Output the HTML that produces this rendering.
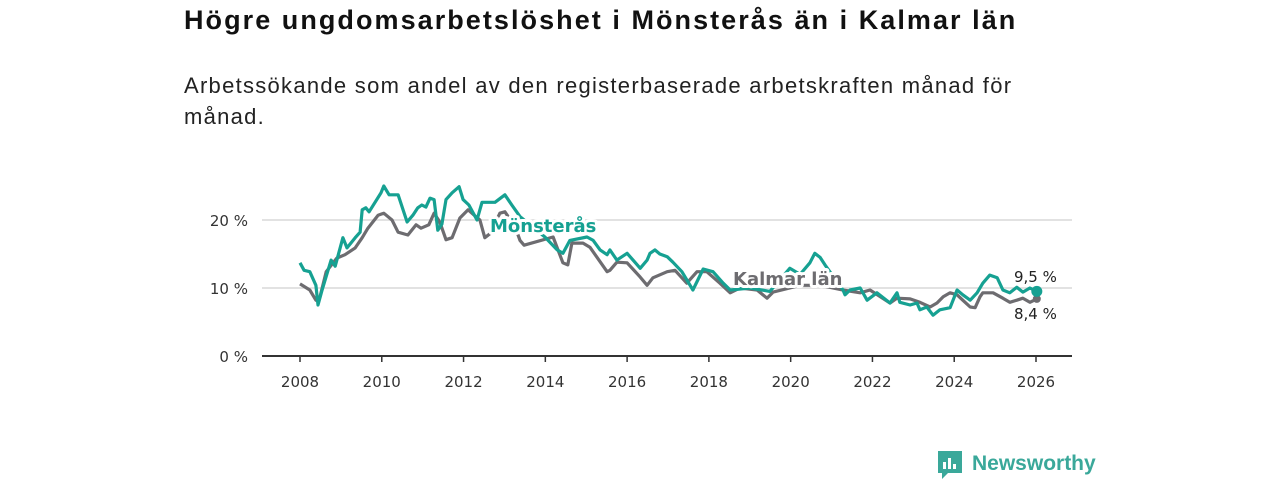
<!DOCTYPE html>
<html><head><meta charset="utf-8"><style>
body{margin:0;background:#fff;width:1280px;height:480px;overflow:hidden;font-family:"Liberation Sans","DejaVu Sans",sans-serif;}
#title{position:absolute;left:184px;top:5px;font-size:27px;letter-spacing:2.05px;font-weight:bold;color:#111;margin:0;white-space:nowrap;}
#sub{position:absolute;left:184px;top:70px;font-size:22px;letter-spacing:1.28px;line-height:31px;color:#222;width:850px;}
svg{position:absolute;left:0;top:0;}
</style></head><body>
<h1 id="title">Högre ungdomsarbetslöshet i Mönsterås än i Kalmar län</h1>
<div id="sub">Arbetssökande som andel av den registerbaserade arbetskraften månad för månad.</div>
<svg id="chart" width="1280" height="480"></svg>
<script>
const yTicks=[0,10,20];
const yTickLabels=["0 %","10 %","20 %"];
const xTicks=[2008,2010,2012,2014,2016,2018,2020,2022,2024,2026];
const monsYears=[2008.00,2008.10,2008.24,2008.39,2008.44,2008.54,2008.76,2008.86,2009.05,2009.15,2009.35,2009.47,2009.52,2009.61,2009.69,2009.98,2010.05,2010.18,2010.40,2010.62,2010.76,2010.88,2010.98,2011.08,2011.18,2011.28,2011.37,2011.47,2011.57,2011.72,2011.89,2011.99,2012.13,2012.33,2012.45,2012.77,2013.01,2013.18,2013.38,2013.99,2014.29,2014.43,2014.60,2015.02,2015.17,2015.34,2015.51,2015.58,2015.75,2016.00,2016.32,2016.49,2016.56,2016.68,2016.80,2016.98,2017.12,2017.34,2017.61,2017.86,2018.10,2018.35,2018.52,2019.01,2019.49,2019.98,2020.23,2020.47,2020.59,2020.72,2020.84,2021.28,2021.33,2021.45,2021.70,2021.87,2022.11,2022.43,2022.60,2022.67,2022.92,2023.09,2023.16,2023.33,2023.48,2023.65,2023.90,2024.07,2024.21,2024.39,2024.56,2024.70,2024.87,2025.05,2025.19,2025.36,2025.53,2025.68,2025.85,2026.02];
const monsValues=[13.7,12.6,12.4,10.4,7.5,9.7,14.1,13.2,17.4,15.9,17.4,18.2,21.5,21.8,21.2,24,25,23.7,23.7,19.7,20.7,21.8,22.2,21.9,23.2,23,18.5,19.4,23,24,24.9,23,22.2,20,22.6,22.6,23.7,22.2,20.5,17.5,15.6,15.1,17,17.5,17,15.6,14.9,15.6,14.1,15.1,12.9,14.1,15.1,15.6,15,14.6,13.8,12.4,9.7,12.8,12.4,10.7,9.7,10,9.5,12.9,12,13.7,15.1,14.5,13.4,9.7,9,9.7,10,8.2,9.3,7.8,9.3,7.9,7.5,7.8,6.8,7.2,6.0,6.8,7.1,9.7,9,8.2,9.3,10.7,11.9,11.5,9.7,9.3,10.1,9.4,10,9.5];
const kalYears=[2008.00,2008.24,2008.39,2008.49,2008.64,2008.90,2009.10,2009.35,2009.52,2009.66,2009.91,2010.05,2010.25,2010.40,2010.64,2010.84,2010.96,2011.15,2011.28,2011.42,2011.57,2011.72,2011.91,2012.11,2012.26,2012.40,2012.52,2012.65,2012.89,2013.01,2013.26,2013.38,2013.48,2014.19,2014.43,2014.55,2014.65,2014.92,2015.09,2015.51,2015.58,2015.75,2016.00,2016.32,2016.49,2016.63,2016.98,2017.17,2017.46,2017.71,2017.95,2018.27,2018.52,2018.76,2019.18,2019.42,2019.57,2019.98,2020.23,2020.72,2021.28,2021.70,2021.94,2022.43,2022.60,2022.92,2023.16,2023.41,2023.58,2023.73,2023.90,2024.07,2024.21,2024.39,2024.51,2024.63,2024.70,2024.95,2025.19,2025.36,2025.53,2025.68,2025.85,2026.02];
const kalValues=[10.6,9.7,8.2,8.7,12.4,14.4,14.9,15.9,17.4,18.8,20.7,21,20,18.2,17.8,19.3,18.8,19.3,21,19.7,17.1,17.4,20.3,21.5,20.7,20,17.4,18,21,21.2,19,17,16.3,17.5,13.7,13.4,16.6,16.6,16,12.4,12.6,13.8,13.7,11.6,10.4,11.5,12.4,12.6,10.7,12.4,12.4,10.7,9.3,10,9.7,8.5,9.4,10,10.4,10.4,9.7,9.3,9.7,7.8,8.5,8.4,7.9,7.2,7.8,8.7,9.3,9,8.2,7.2,7.1,8.7,9.3,9.3,8.5,7.9,8.2,8.5,7.9,8.4];
const monsLast="9,5 %", kalLast="8,4 %";

const NS="http://www.w3.org/2000/svg";
const svg=document.getElementById('chart');
const X=y=>300+(y-2008)*(736/18);
const Y=v=>356-v*6.8;
const TF='"DejaVu Sans","Liberation Sans",sans-serif';
function mk(tag,attrs,parent){const e=document.createElementNS(NS,tag);for(const k in attrs)e.setAttribute(k,attrs[k]);(parent||svg).appendChild(e);return e;}
yTicks.forEach((t,i)=>{
  if(t>0){const g=mk('line',{x1:262,x2:1072,y1:Y(t),y2:Y(t),stroke:'#d9d9d9','stroke-width':1.5});
  
  }
  const l=mk('text',{x:248,y:Y(t)+6,'text-anchor':'end','font-size':15,'font-family':TF,fill:'#333'});
  l.textContent=yTickLabels[i];
  
  
});
const ax=mk('line',{x1:262,x2:1072,y1:356,y2:356,stroke:'#333','stroke-width':2});


xTicks.forEach(t=>{
  const tk=mk('line',{x1:X(t),x2:X(t),y1:356,y2:362,stroke:'#333','stroke-width':1.5});
  
  
  const l=mk('text',{x:X(t),y:387,'text-anchor':'middle','font-size':15,'font-family':TF,fill:'#333'});
  l.textContent=t;
  
  
});
function line(xs,vs,col,name){
  const d=xs.map((x,i)=>(i?'L':'M')+X(x).toFixed(1)+','+Y(vs[i]).toFixed(1)).join('');
  const p=mk('path',{d:d,fill:'none',stroke:col,'stroke-width':3.2,'stroke-linejoin':'round'});
  
  
  const c=mk('circle',{cx:X(xs[xs.length-1]),cy:Y(vs[vs.length-1]),r:name.startsWith('mon')?5.5:4,fill:col});
  
  
}
line(kalYears,kalValues,'#6d6c70','kalmar-line');
line(monsYears,monsValues,'#16a192','monsteras-line');
function lab(txt,x,y,col,size,bold,name){
  const t=mk('text',{x:x,y:y,'font-size':size,'font-family':TF,fill:col,'font-weight':bold?'bold':'normal',stroke:'#fff','stroke-width':bold?6:4,'paint-order':'stroke','stroke-linejoin':'round'});
  t.textContent=txt;
  
  
}
lab('Mönsterås',490,232,'#16a192',18,true,'monsteras-label');
lab('Kalmar län',733,285,'#6d6c70',18,true,'kalmar-label');
lab(monsLast,1014,282,'#222',15,false,'monsteras-last-value');
lab(kalLast,1014,319,'#222',15,false,'kalmar-last-value');
const lg=mk('g',{});


mk('path',{d:'M938,451h24v22h-14l-6,6v-6h-4z',fill:'#3aa89a'},lg);
mk('rect',{x:943,y:462,width:3,height:7,fill:'#fff'},lg);
mk('rect',{x:948,y:458,width:3,height:11,fill:'#fff'},lg);
mk('rect',{x:953,y:464,width:3,height:5,fill:'#fff'},lg);
const lt=mk('text',{x:972,y:470,'font-size':21,'font-weight':'bold',fill:'#3aa89a'},lg);
lt.textContent='Newsworthy';
</script>
</body></html>
